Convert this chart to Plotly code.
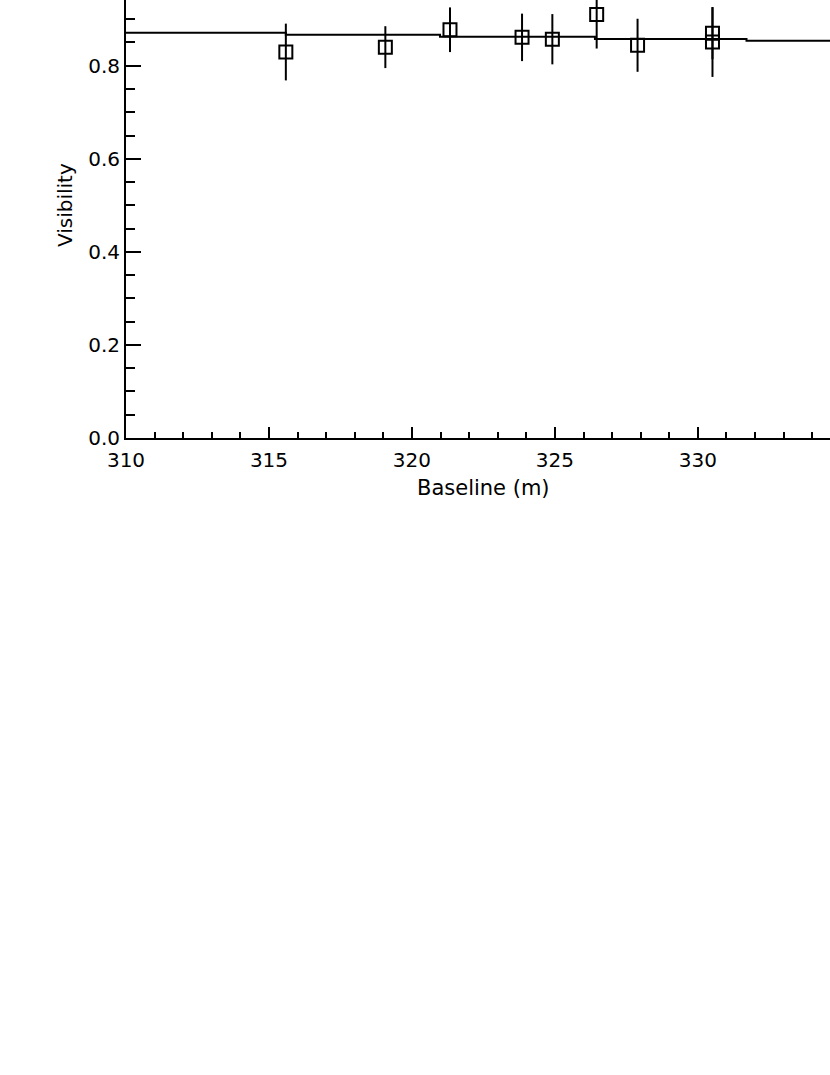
import plotly.graph_objects as go

# measured visibilities
baseline = [315.59, 319.07, 321.33, 323.85, 324.91, 326.46, 327.89, 330.51, 330.51]
visibility = [0.8295, 0.840, 0.8774, 0.861, 0.857, 0.910, 0.844, 0.870, 0.851]
vis_err = [0.061, 0.045, 0.048, 0.051, 0.054, 0.073, 0.057, 0.056, 0.075]

# model curve (as drawn, stepped)
model_x = [310.0, 315.59, 320.98, 326.40, 331.70, 334.62]
model_y = [0.871, 0.8667, 0.8624, 0.8574, 0.8538, 0.8538]

font = dict(family="DejaVu Sans", size=20, color="black")

fig = go.Figure()
fig.add_trace(go.Scatter(x=model_x, y=model_y, mode="lines", line_shape="hv",
                         line=dict(color="black", width=2), hoverinfo="skip"))
fig.add_trace(go.Scatter(x=baseline, y=visibility, mode="markers",
                         marker=dict(symbol="square-open", size=13, color="black",
                                     line=dict(color="black", width=2)),
                         error_y=dict(type="data", array=vis_err, width=0,
                                      thickness=2, color="black")))

fig.update_xaxes(range=[310, 334.62], tickvals=[310, 315, 320, 325, 330],
                 ticks="inside", ticklen=11, tickwidth=2, tickcolor="black",
                 minor=dict(dtick=1, tick0=310, ticks="inside", ticklen=6,
                            tickwidth=2, tickcolor="black"),
                 showline=True, linewidth=2, linecolor="black",
                 showgrid=False, zeroline=False, tickfont=font,
                 ticklabelstandoff=3)
fig.update_yaxes(range=[0, 0.9413], tickvals=[0, 0.2, 0.4, 0.6, 0.8],
                 tickformat=".1f",
                 ticks="inside", ticklen=15, tickwidth=2, tickcolor="black",
                 minor=dict(dtick=0.05, tick0=0, ticks="inside", ticklen=9,
                            tickwidth=2, tickcolor="black"),
                 showline=True, linewidth=2, linecolor="black",
                 showgrid=False, zeroline=False, tickfont=font)

fig.add_annotation(text="Baseline (m)", xref="paper", yref="paper",
                   x=0.508, y=-0.114, xanchor="center", yanchor="middle",
                   showarrow=False, font=dict(font, size=21))
fig.add_annotation(text="Visibility", textangle=-90, xref="paper", yref="paper",
                   x=-0.0866, y=0.532, xanchor="center", yanchor="middle",
                   showarrow=False, font=font)

fig.update_layout(width=830, height=1075, showlegend=False,
                  margin=dict(l=126, r=0, t=0, b=637),
                  plot_bgcolor="white", paper_bgcolor="white")

fig.write_html("out.html", config={"displayModeBar": False},
               post_script="document.body.style.margin='0';")
